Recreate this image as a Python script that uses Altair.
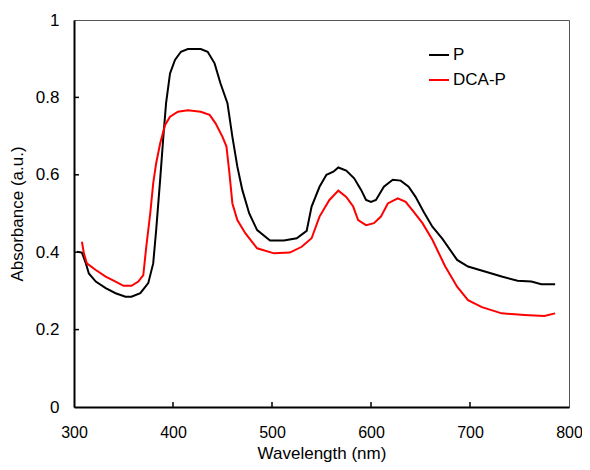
import altair as alt
import pandas as pd

# Series P (black)
p_wl = [303, 308, 312, 315, 322, 332, 342, 352, 358, 367, 375, 380, 383, 387, 390, 393, 397, 402, 408, 415,
        428, 435, 442, 448, 455, 460, 465, 470, 477, 485, 498, 512, 525, 535, 540, 548, 555, 562, 567, 575,
        583, 590, 595, 600, 605, 613, 622, 630, 638, 645, 653, 662, 672, 687, 698, 715, 732, 748, 762, 772, 786]
p_abs = [0.401, 0.399, 0.371, 0.345, 0.324, 0.307, 0.294, 0.285, 0.285, 0.294, 0.320, 0.371, 0.457, 0.587, 0.690,
         0.785, 0.862, 0.897, 0.918, 0.925, 0.925, 0.918, 0.888, 0.836, 0.785, 0.698, 0.621, 0.561, 0.500, 0.457,
         0.430, 0.430, 0.436, 0.455, 0.518, 0.569, 0.600, 0.608, 0.619, 0.611, 0.591, 0.561, 0.535, 0.530, 0.535,
         0.569, 0.587, 0.585, 0.569, 0.543, 0.505, 0.466, 0.435, 0.380, 0.363, 0.350, 0.337, 0.326, 0.324, 0.317, 0.317]

# Series DCA-P (red)
d_wl = [308, 310, 313, 322, 332, 342, 350, 358, 365, 370, 373, 377, 380, 383, 387, 392, 397, 405, 415, 428,
        437, 443, 450, 454, 457, 460, 465, 473, 485, 502, 518, 530, 540, 548, 558, 567, 575, 582, 587, 595,
        603, 610, 617, 627, 635, 643, 652, 662, 675, 687, 698, 712, 732, 755, 775, 786]
d_abs = [0.427, 0.397, 0.371, 0.354, 0.337, 0.324, 0.313, 0.313, 0.324, 0.341, 0.414, 0.500, 0.578, 0.630, 0.681,
         0.729, 0.750, 0.763, 0.767, 0.763, 0.755, 0.733, 0.698, 0.673, 0.604, 0.526, 0.483, 0.449, 0.410, 0.397,
         0.399, 0.414, 0.436, 0.492, 0.535, 0.559, 0.543, 0.518, 0.483, 0.470, 0.475, 0.492, 0.526, 0.539, 0.530,
         0.505, 0.475, 0.432, 0.363, 0.311, 0.276, 0.258, 0.242, 0.238, 0.235, 0.242]

series_names = ["P", "DCA-P"]
series_colors = ["#000000", "#ff0000"]

x_ticks = [300, 400, 500, 600, 700, 800]
y_ticks = [0, 0.2, 0.4, 0.6, 0.8, 1]
x_inner_ticks = [400, 500, 600, 700]
y_inner_ticks = [0.2, 0.4, 0.6, 0.8]

df = pd.concat([
    pd.DataFrame({"wl": p_wl, "abs": p_abs, "series": "P", "order": range(len(p_wl))}),
    pd.DataFrame({"wl": d_wl, "abs": d_abs, "series": "DCA-P", "order": range(len(d_wl))}),
])

FONT = "Liberation Sans"
W, H = 495, 387

xscale = alt.Scale(domain=[300, 800], nice=False, zero=False)
yscale = alt.Scale(domain=[0, 1], nice=False)

lines = alt.Chart(df).mark_line(strokeWidth=2).encode(
    x=alt.X("wl:Q", scale=xscale,
            axis=alt.Axis(title="Wavelength (nm)", values=x_ticks, format="d", grid=False,
                          ticks=False, tickSize=0, labelPadding=17, titlePadding=5,
                          labelFlush=False, labelOverlap=False, labelFontSize=16,
                          domainColor="black", domainWidth=2)),
    y=alt.Y("abs:Q", scale=yscale,
            axis=alt.Axis(title="Absorbance (a.u.)", values=y_ticks, format=".1~f", grid=False,
                          ticks=False, tickSize=0, labelPadding=15, titlePadding=9,
                          labelFlush=False, labelOverlap=False,
                          domainColor="black", domainWidth=2)),
    color=alt.Color("series:N", scale=alt.Scale(domain=series_names, range=series_colors),
                    legend=alt.Legend(title=None, orient="none", legendX=354, legendY=24,
                                      symbolType="stroke", symbolSize=400, symbolStrokeWidth=2,
                                      labelFontSize=17, labelFont=FONT, labelColor="black",
                                      rowPadding=6, labelOffset=3)),
    order="order:Q",
)

xt = alt.Chart(pd.DataFrame({"t": x_inner_ticks})).mark_rule(color="black", strokeWidth=1.5).encode(
    x=alt.X("t:Q", scale=xscale), y=alt.value(H), y2=alt.value(H - 5))
yt = alt.Chart(pd.DataFrame({"t": y_inner_ticks})).mark_rule(color="black", strokeWidth=1.5).encode(
    y=alt.Y("t:Q", scale=yscale), x=alt.value(0), x2=alt.value(5))

chart = alt.layer(lines, xt, yt).properties(
    width=W, height=H,
    autosize=alt.AutoSizeParams(type="none"),
    padding={"left": 66, "top": 12, "right": 13, "bottom": 55},
).configure_view(stroke="#555555", strokeWidth=1).configure_axis(
    labelFont=FONT, labelFontSize=17, labelColor="black",
    titleFont=FONT, titleFontSize=17, titleFontWeight="normal", titleColor="black",
)

chart.save("out.html", embed_options={"renderer": "svg", "actions": False})
